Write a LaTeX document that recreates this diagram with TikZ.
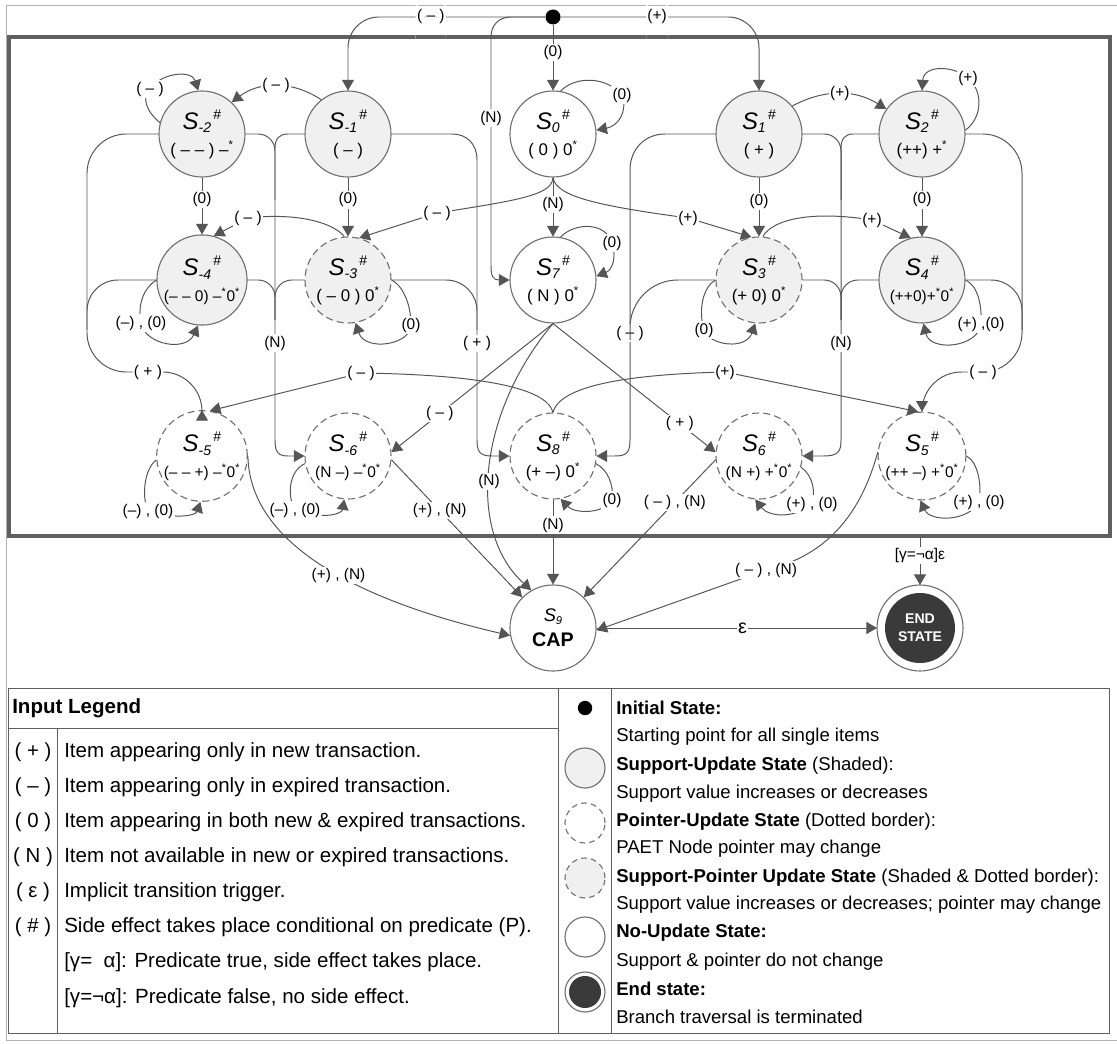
\documentclass[tikz,border=0pt]{standalone}
\usepackage{fontspec}
\setmainfont{Liberation Sans}
\usetikzlibrary{arrows.meta}
\definecolor{edgegray}{HTML}{555555}
\definecolor{rimgray}{HTML}{707070}
\definecolor{shadegray}{HTML}{F0F0F0}
\definecolor{enddark}{HTML}{3A3A3A}
\definecolor{framegray}{HTML}{606060}
\tikzstyle{state}=[circle, draw=rimgray, line width=0.8pt, minimum size=2.15cm, inner sep=0pt, align=center, font=\fontsize{12}{18}\selectfont]
\tikzstyle{state_shaded}=[state, fill=shadegray]
\tikzstyle{state_ptr}=[state, dash pattern=on 5pt off 3pt]
\tikzstyle{trans}=[draw=edgegray, line width=0.7pt, -{Triangle[length=7.5pt,width=8.5pt]}]
\tikzstyle{bus}=[draw=edgegray, line width=0.7pt]
\tikzstyle{lbl}=[fill=white, inner sep=1pt, font=\fontsize{11}{11}\selectfont]
\tikzstyle{lgkey}=[inner sep=0pt, font=\fontsize{14.5}{14.5}\selectfont]
\tikzstyle{lgtext}=[anchor=west, inner sep=0pt, font=\fontsize{14.6}{14.6}\selectfont]
\tikzstyle{lgdesc}=[anchor=west, inner sep=0pt, font=\fontsize{13.2}{13.2}\selectfont]
\newcommand{\sname}[1]{{\fontsize{17}{17}\selectfont\itshape S}\raisebox{-0.35ex}{\fontsize{10}{10}\selectfont\itshape #1}\raisebox{1.2ex}{\fontsize{10}{10}\selectfont\,\#}}
\newcommand{\sstar}{\textsuperscript{*}}
\newcommand{\smallval}[1]{{\fontsize{11}{18}\selectfont #1}}

\begin{document}
\begin{tikzpicture}[x=0.025cm, y=0.025cm]
\useasboundingbox (0,0) rectangle (1117,-1044);
\draw[gray!60, line width=0.6pt] (1117,-5) -- (6,-5) -- (6,-1040) -- (1117,-1040);
\draw[framegray, line width=2.2pt] (9,-37) rectangle (1110,-536);

\node[circle, fill=black, minimum size=0.375cm, inner sep=0pt] (init) at (553,-17){};
\node[state_shaded] (sm2) at (202,-134){\sname{-2}\\( – – ) –\sstar};
\node[state_shaded] (sm1) at (348,-134){\sname{-1}\\( – )};
\node[state] (s0) at (553,-134){\sname{0}\\( 0 ) 0\sstar};
\node[state_shaded] (s1) at (759,-134){\sname{1}\\( + )};
\node[state_shaded] (s2) at (922,-134){\sname{2}\\(++) +\sstar};
\node[state_shaded] (sm4) at (202,-280){\sname{-4}\\\smallval{(– – 0) –\sstar0\sstar}};
\node[state_shaded, state_ptr] (sm3) at (348,-280){\sname{-3}\\( – 0 ) 0\sstar};
\node[state] (s7) at (553,-280){\sname{7}\\( N ) 0\sstar};
\node[state_shaded, state_ptr] (s3) at (759,-280){\sname{3}\\(+ 0) 0\sstar};
\node[state_shaded] (s4) at (922,-280){\sname{4}\\\smallval{(++0)+\sstar0\sstar}};
\node[state_ptr] (sm5) at (202,-456){\sname{-5}\\\smallval{(– – +) –\sstar0\sstar}};
\node[state_ptr] (sm6) at (348,-456){\sname{-6}\\\smallval{(N –) –\sstar0\sstar}};
\node[state_ptr] (s8) at (553,-456){\sname{8}\\(+ –) 0\sstar};
\node[state_ptr] (s6) at (759,-456){\sname{6}\\\smallval{(N +) +\sstar0\sstar}};
\node[state_ptr] (s5) at (922,-456){\sname{5}\\\smallval{(++ –) +\sstar0\sstar}};
\node[state] (s9) at (553,-628){{\fontsize{13}{13}\selectfont\itshape S}\raisebox{-0.35ex}{\fontsize{8}{8}\selectfont\itshape 9}\\{\fontsize{14}{14}\selectfont\bfseries CAP}};
\node[circle, fill=enddark, minimum size=1.75cm, outer sep=0.2cm, inner sep=0pt, align=center, text=white, font=\fontsize{10}{13}\selectfont\bfseries] (end) at (920,-628){END\\STATE};
\draw[rimgray, line width=0.8pt] (end.center) circle (43);
\coordinate (exitgate) at (920,-538);

\draw[trans, rounded corners=22] (init) -| node[lbl, pos=0.29]{( – )} (sm1);
\draw[trans, rounded corners=22] (init) -| node[lbl, pos=0.243]{(+)} (s1);
\draw[trans] (init) -- node[lbl, pos=0.42]{(0)} (s0);
\draw[trans] (init.west) -- (511,-17) .. controls (499,-17) and (491,-25) .. (491,-37) -- node[lbl, pos=0.354]{(N)} (491,-266) .. controls (491,-276) and (493,-280) .. (499,-280) -- (s7.west);

\draw[trans] (sm2.165) .. controls (145,-110) and (142,-97) .. (150,-89) node[lbl]{( – )} .. controls (162,-72) and (192,-70) .. (sm2.95);
\draw[trans] (sm1.128) to[bend right=35] node[lbl]{( – )} (sm2.47);
\draw[trans] (s0.80) .. controls (575,-76) and (606,-76) .. (622,-95) node[lbl]{(0)} .. controls (628,-112) and (618,-126) .. (s0.5);
\draw[trans] (s1.40) to[bend left=30] node[lbl]{(+)} (s2.145);
\draw[trans] (s2.5) .. controls (982,-118) and (984,-92) .. (968,-78) node[lbl]{(+)} .. controls (955,-66) and (924,-64) .. (s2.north);

\draw[trans] (sm2) -- node[lbl, pos=0.38]{(0)} (sm4);
\draw[trans] (sm1) -- node[lbl, pos=0.38]{(0)} (sm3);
\draw[trans] (s1) -- node[lbl, pos=0.4]{(0)} (s3);
\draw[trans] (s2) -- node[lbl, pos=0.38]{(0)} (s4);
\draw[trans] (s0) -- node[lbl, pos=0.46]{(N)} (s7);
\draw[trans] (s0.south) .. controls (552,-195) and (520,-200) .. (437,-213) node[lbl]{( – )} -- (sm3.75);
\draw[trans] (s0.south) .. controls (556,-197) and (600,-206) .. (688,-218) node[lbl]{(+)} -- (s3.100);
\draw[trans] (sm3.95) .. controls (335,-224) and (300,-212) .. (248,-218) node[lbl]{( – )} -- (sm4.75);
\draw[trans] (s3.85) .. controls (772,-220) and (810,-210) .. (872,-220) node[lbl]{(+)} -- (s4.105);
\draw[trans] (s7.80) .. controls (575,-222) and (606,-222) .. (612,-243) node[lbl]{(0)} .. controls (617,-258) and (612,-270) .. (s7.5);

\draw[trans] (sm4.west) .. controls (145,-287) and (137,-303) .. (141,-323) node[lbl]{(–) , (0)} .. controls (145,-345) and (186,-352) .. (sm4.-95);
\draw[trans] (sm3.east) .. controls (402,-285) and (411,-303) .. (411,-325) node[lbl]{(0)} .. controls (411,-345) and (365,-352) .. (sm3.-80);
\draw[trans] (s3.west) .. controls (703,-287) and (698,-310) .. (704,-330) node[lbl]{(0)} .. controls (710,-346) and (746,-350) .. (s3.-95);
\draw[trans] (s4.east) .. controls (978,-286) and (982,-305) .. (981,-324) node[lbl]{(+) ,(0)} .. controls (978,-348) and (930,-352) .. (s4.-88);

\draw[trans] (sm2.west) [rounded corners=28] -| (87,-372) -| node[lbl, pos=0.265]{( + )} (sm5);
\draw[bus] (sm4.west) [rounded corners=22] -| (87,-330);
\draw[trans] (s2.east) [rounded corners=28] -| (1022,-372) -| node[lbl, pos=0.195]{( – )} (s5);
\draw[bus] (s4.east) [rounded corners=22] -| (1022,-330);
\draw[trans] (sm1.west) -- (288,-134) .. controls (279,-134) and (275,-139) .. (275,-148) -- node[lbl, pos=0.668]{(N)} (275,-440) .. controls (275,-452) and (278,-456) .. (288,-456) -- (sm6.west);
\draw[bus] (sm2.east) [rounded corners=12] -| (275,-200);
\draw[bus] (sm4.east) [rounded corners=12] -| (275,-320);
\draw[bus] (sm3.west) [rounded corners=12] -| (275,-320);
\draw[trans] (sm1.east) -- (452,-134) .. controls (467,-134) and (477,-144) .. (477,-160) -- node[lbl, pos=0.654]{( + )} (477,-440) .. controls (477,-452) and (480,-456) .. (492,-456) -- (s8.west);
\draw[bus] (sm3.east) [rounded corners=22] -| (477,-330);
\draw[trans] (s1.west) -- (665,-134) .. controls (645,-134) and (630,-149) .. (630,-170) -- node[lbl, pos=0.604]{( – )} (630,-440) .. controls (630,-452) and (627,-456) .. (615,-456) -- (s8.east);
\draw[bus] (s3.west) [rounded corners=34] -| (630,-340);
\draw[trans] (s2.west) -- (853,-134) .. controls (845,-134) and (841,-139) .. (841,-148) -- node[lbl, pos=0.668]{(N)} (841,-440) .. controls (841,-452) and (838,-456) .. (823,-456) -- (s6.east);
\draw[bus] (s1.east) [rounded corners=12] -| (841,-200);
\draw[bus] (s3.east) [rounded corners=12] -| (841,-320);
\draw[bus] (s4.west) [rounded corners=12] -| (841,-320);

\draw[trans] (s8.north) .. controls (548,-392) and (500,-375) .. (361,-373) node[lbl]{( – )} -- (sm5.80);
\draw[trans] (s8.north) .. controls (558,-392) and (600,-375) .. (725,-372) node[lbl]{(+)} -- (s5.95);
\draw[trans] (s7.south) -- node[lbl, pos=0.7]{( – )} (sm6.5);
\draw[trans] (s7.south) -- node[lbl, pos=0.78]{( + )} (s6.175);
\draw[trans] (s7.south) .. controls (480,-410) and (465,-530) .. node[lbl, pos=0.55]{(N)} (s9.120);

\draw[trans] (sm5.185) .. controls (145,-468) and (141,-495) .. (148,-511) node[lbl]{(–) , (0)} .. controls (178,-520) and (196,-515) .. (sm5.-92);
\draw[trans] (sm6.190) .. controls (290,-470) and (286,-494) .. (295,-510) node[lbl]{(–) , (0)} .. controls (322,-520) and (342,-514) .. (sm6.-95);
\draw[trans] (s8.-10) .. controls (608,-470) and (614,-485) .. (612,-500) node[lbl]{(0)} .. controls (604,-514) and (575,-514) .. (s8.-80);
\draw[trans] (s6.-15) .. controls (812,-475) and (816,-490) .. (812,-504) node[lbl]{(+) , (0)} .. controls (792,-520) and (768,-516) .. (s6.-95);
\draw[trans] (s5.east) .. controls (978,-462) and (982,-485) .. (979,-502) node[lbl]{(+) , (0)} .. controls (968,-522) and (930,-522) .. (s5.-92);

\draw[trans] (sm6.-5) -- node[lbl, pos=0.37]{(+) , (N)} (s9.135);
\draw[trans] (s8) -- node[lbl, pos=0.3]{(N)} (s9);
\draw[trans] (s6.185) -- node[lbl, pos=0.31]{( – ) , (N)} (s9.45);
\draw[trans] (sm5.east) .. controls (250,-560) and (400,-610) .. node[lbl, pos=0.5]{(+) , (N)} (s9.190);
\draw[trans] (s5.175) .. controls (862,-510) and (830,-555) .. (766,-570) node[lbl]{( – ) , (N)} -- (s9.-3);
\draw[trans] (s9) -- node[lbl, pos=0.52, font=\fontsize{14}{14}\selectfont]{ε} (end);
\draw[trans] (exitgate) -- node[lbl, pos=0.38]{[γ=¬α]ε} (end);

\draw[framegray, line width=0.6pt] (8,-688) rectangle (1109,-1033);
\draw[framegray, line width=0.6pt] (558,-688) -- (558,-1033);
\draw[framegray, line width=0.6pt] (8,-728) -- (558,-728);
\draw[framegray, line width=0.6pt] (57,-728) -- (57,-1033);
\draw[framegray, line width=0.6pt] (611,-688) -- (611,-1033);

\node[lgtext, font=\fontsize{14.6}{14.6}\selectfont\bfseries] (lgtitle) at (12,-708){Input Legend};
\node[lgkey] (key1) at (33,-752){( + )};
\node[lgtext] (txt1) at (64,-752){Item appearing only in new transaction.};
\node[lgkey] (key2) at (33,-787){( – )};
\node[lgtext] (txt2) at (64,-787){Item appearing only in expired transaction.};
\node[lgkey] (key3) at (33,-822){( 0 )};
\node[lgtext] (txt3) at (64,-822){Item appearing in both new \& expired transactions.};
\node[lgkey] (key4) at (33,-857){( N )};
\node[lgtext] (txt4) at (64,-857){Item not available in new or expired transactions.};
\node[lgkey] (key5) at (33,-892){( ε )};
\node[lgtext] (txt5) at (64,-892){Implicit transition trigger.};
\node[lgkey] (key6) at (33,-927){( \# )};
\node[lgtext] (txt6) at (64,-927){Side effect takes place conditional on predicate (P).};
\node[lgtext] (txt7) at (64,-962){[γ=\ \ α]: Predicate true, side effect takes place.};
\node[lgtext] (txt8) at (64,-998){[γ=¬α]: Predicate false, no side effect.};

\node[circle, fill=black, minimum size=0.36cm, inner sep=0pt] (lginit) at (585,-708){};
\node[state_shaded, minimum size=1cm] (lgshade) at (585,-768){};
\node[state_ptr, minimum size=1cm, dash pattern=on 4pt off 3pt] (lgptr) at (585,-823){};
\node[state_shaded, state_ptr, minimum size=1cm, dash pattern=on 4pt off 3pt] (lgboth) at (585,-878){};
\node[state, minimum size=1cm] (lgplain) at (585,-937){};
\node[circle, fill=enddark, minimum size=0.8cm, inner sep=0pt] (lgend) at (585,-992){};
\draw[rimgray, line width=0.8pt] (lgend.center) circle (20);
\node[lgdesc] (d1) at (616,-708){\textbf{Initial State:}};
\node[lgdesc] (d2) at (616,-737){Starting point for all single items};
\node[lgdesc] (d3) at (616,-766){\textbf{Support-Update State} (Shaded):};
\node[lgdesc] (d4) at (616,-794){Support value increases or decreases};
\node[lgdesc] (d5) at (616,-822){\textbf{Pointer-Update State} (Dotted border):};
\node[lgdesc] (d6) at (616,-849){PAET Node pointer may change};
\node[lgdesc] (d7) at (616,-878){\textbf{Support-Pointer Update State} (Shaded \& Dotted border):};
\node[lgdesc] (d8) at (616,-905){Support value increases or decreases; pointer may change};
\node[lgdesc] (d9) at (616,-933){\textbf{No-Update State:}};
\node[lgdesc] (d10) at (616,-962){Support \& pointer do not change};
\node[lgdesc] (d11) at (616,-989){\textbf{End state:}};
\node[lgdesc] (d12) at (616,-1017){Branch traversal is terminated};
\end{tikzpicture}
\end{document}
